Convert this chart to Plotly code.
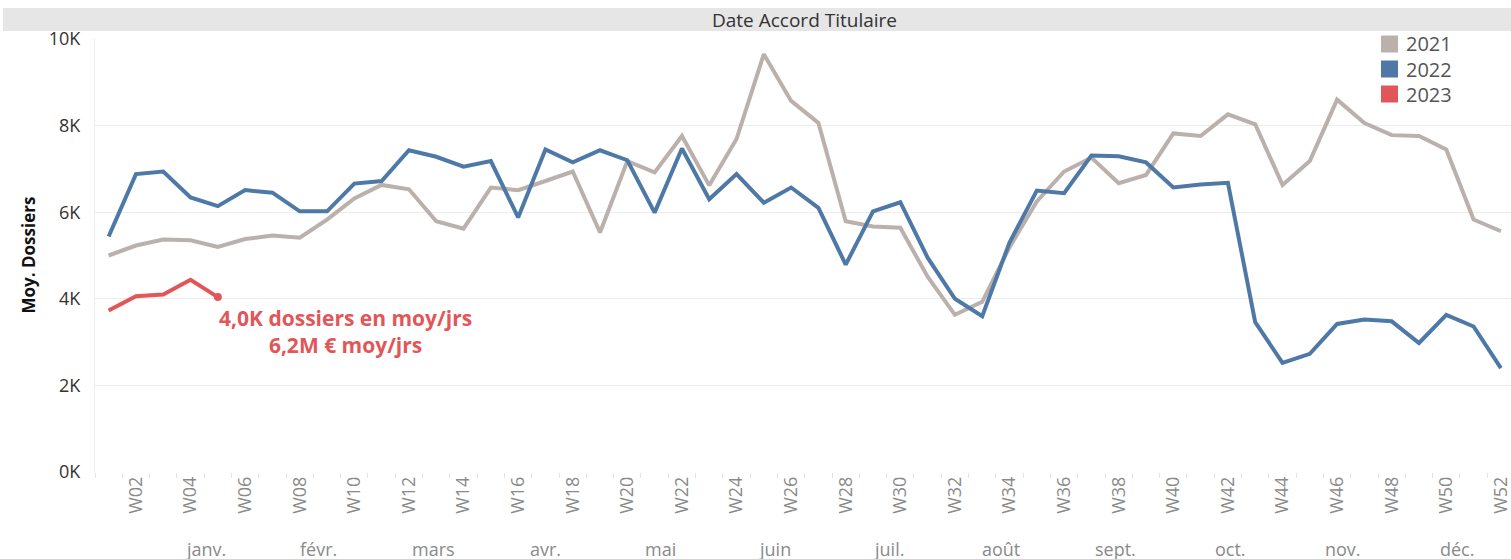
import plotly.graph_objects as go

weeks = list(range(1, 53))
week_labels = ["W%02d" % w for w in weeks]

# moyenne dossiers / jour par semaine
v2021 = [5000, 5230, 5370, 5350, 5200, 5380, 5460, 5410, 5830, 6320,
         6630, 6530, 5790, 5620, 6570, 6510, 6720, 6940, 5530, 7180,
         6920, 7760, 6620, 7690, 9650, 8570, 8060, 5790, 5670, 5640,
         4510, 3630, 3930, 5190, 6250, 6940, 7260, 6670, 6860, 7820,
         7760, 8260, 8030, 6630, 7180, 8600, 8060, 7780, 7760, 7450,
         5830, 5560]
v2022 = [5440, 6880, 6940, 6340, 6140, 6510, 6450, 6020, 6020, 6660,
         6720, 7430, 7280, 7050, 7180, 5880, 7450, 7150, 7430, 7200,
         5990, 7470, 6300, 6880, 6220, 6570, 6100, 4790, 6020, 6230,
         4950, 4000, 3600, 5300, 6500, 6440, 7310, 7290, 7150, 6570,
         6640, 6680, 3460, 2520, 2730, 3420, 3520, 3480, 2980, 3630,
         3360, 2400]
v2023 = [3730, 4060, 4100, 4440, 4040]

months = ["janv.", "févr.", "mars", "avr.", "mai", "juin",
          "juil.", "août", "sept.", "oct.", "nov.", "déc."]
month_pos = [4.55, 8.7, 12.9, 17.0, 21.2, 25.4, 29.6, 33.7, 37.9, 42.1, 46.2, 50.4]

colors = {"2021": "#BAB0AC", "2022": "#4E79A7", "2023": "#E15759"}
font = "Open Sans"

W, H = 1511, 559
L, R, T, B = 95, 0, 39, 87


def px(x):
    return (x - L) / (W - L - R)


def py(y):
    return (H - B - y) / (H - B - T)


fig = go.Figure()
fig.add_trace(go.Scatter(x=weeks, y=v2021, mode="lines", name="2021",
                         line=dict(color=colors["2021"], width=4)))
fig.add_trace(go.Scatter(x=weeks, y=v2022, mode="lines", name="2022",
                         line=dict(color=colors["2022"], width=4)))
fig.add_trace(go.Scatter(x=weeks[:len(v2023)], y=v2023, mode="lines", name="2023",
                         line=dict(color=colors["2023"], width=4)))
fig.add_trace(go.Scatter(x=[weeks[len(v2023) - 1]], y=[v2023[-1]], mode="markers",
                         name="2023", marker=dict(color=colors["2023"], size=8)))

fig.update_layout(
    width=W, height=H,
    margin=dict(l=L, r=R, t=T, b=B),
    plot_bgcolor="white", paper_bgcolor="white",
    font=dict(family=font),
    showlegend=False,
    xaxis=dict(range=[0.5, 52.37], tickmode="array",
               tickvals=weeks[1::2], ticktext=week_labels[1::2],
               tickangle=-90, tickfont=dict(size=18, color="#8a8a8a"),
               ticklabeloverflow="allow",
               showgrid=False, zeroline=False, ticks="",
               minor=dict(tick0=0.5, dtick=1, ticks="outside", ticklen=5,
                          tickcolor="#e2e2e2", showgrid=False)),
    yaxis=dict(range=[0, 10000], tickmode="array",
               tickvals=[0, 2000, 4000, 6000, 8000, 10000],
               ticktext=["0K", "2K", "4K", "6K", "8K", "10K"],
               tickfont=dict(size=18, color="#333"),
               showgrid=True, gridcolor="#ececec", zeroline=False,
               showline=True, linecolor="#eeeeee", ticks="", ticklabelstandoff=10),
)

# header band
fig.add_shape(type="rect", xref="paper", yref="paper",
              x0=px(3), x1=1.0, y0=py(31), y1=py(8),
              fillcolor="#e6e6e6", line=dict(width=0), layer="below")
fig.add_annotation(text="Date Accord Titulaire", xref="paper", yref="paper",
                   x=px(805), y=py(20), showarrow=False, xanchor="center", yanchor="middle",
                   font=dict(size=19, color="#333"))

# legend
for i, (name, c) in enumerate(colors.items()):
    yc = 44 + 25 * i
    fig.add_shape(type="rect", xref="paper", yref="paper",
                  x0=px(1381), x1=px(1398), y0=py(yc + 8.5), y1=py(yc - 8.5),
                  fillcolor=c, line=dict(width=0))
    fig.add_annotation(text=name, xref="paper", yref="paper", x=px(1404), y=py(yc),
                       showarrow=False, xanchor="left", yanchor="middle",
                       font=dict(size=20, color="#555"))

fig.add_annotation(text="<b>Moy. Dossiers</b>", xref="paper", yref="paper",
                   x=px(28), y=0.5, textangle=-90, showarrow=False,
                   xanchor="center", yanchor="middle", font=dict(size=17, color="#111"))

fig.add_annotation(text="<b>4,0K dossiers en moy/jrs<br>6,2M € moy/jrs</b>",
                   x=9.68, y=3240, showarrow=False, xanchor="center", yanchor="middle",
                   align="center", font=dict(size=21, color=colors["2023"]))

for m, p in zip(months, month_pos):
    fig.add_annotation(text=m, x=p, xref="x", yref="paper", y=py(549),
                       showarrow=False, xanchor="center", yanchor="middle",
                       font=dict(size=18, color="#8a8a8a"))

fig.write_html("out.html", config={"displayModeBar": False},
               post_script="document.body.style.margin='0';")
